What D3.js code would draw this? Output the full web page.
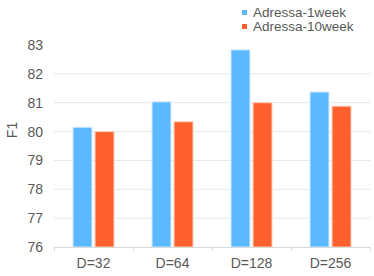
<!DOCTYPE html>
<html>
<head>
<meta charset="utf-8">
<script src="https://cdn.jsdelivr.net/npm/d3@7"></script>
<style>
  body { margin: 0; background: #fff; }
  text { font-family: "Liberation Sans", Arial, sans-serif; fill: #595959; }
</style>
</head>
<body>
<svg id="chart" width="374" height="276"></svg>
<script>
// Data
const categories = ['D=32', 'D=64', 'D=128', 'D=256'];
const series = ['Adressa-1week', 'Adressa-10week'];
const week1 = [80.15, 81.03, 82.83, 81.37];
const week10 = [80.0, 80.34, 81.0, 80.88];
const yTicks = [76, 77, 78, 79, 80, 81, 82, 83];
const colors = ['#5cb8ff', '#ff602d'];

const svg = d3.select('#chart');
const margin = { top: 45, right: 4, bottom: 29, left: 54 };
const width = 374 - margin.left - margin.right;
const height = 276 - margin.top - margin.bottom;

const g = svg.append('g')
  .attr('transform', `translate(${margin.left},${margin.top})`);

const x = d3.scaleBand().domain(categories).range([0, width]);
const xInner = d3.scaleBand().domain(series).range([19, x.bandwidth() - 19]).paddingInner(0.14);
const y = d3.scaleLinear().domain([76, 83]).range([height, 0]);

// Gridlines (none at the top value)
g.selectAll('.grid')
  .data(yTicks.filter(t => t > 76 && t < 83))
  .enter()
  .append('line')
  .attr('x1', 0)
  .attr('x2', width)
  .attr('y1', d => y(d))
  .attr('y2', d => y(d))
  .attr('stroke', '#e4e8ea')
  .attr('stroke-width', 1);

// Y axis labels
const yAxis = g.append('g')
  .call(d3.axisLeft(y).tickValues(yTicks).tickSize(0).tickPadding(11).tickFormat(d3.format('d')));
yAxis.select('.domain').remove();
yAxis.selectAll('text').style('font-size', '14px').attr('fill', '#595959');

// Bars
const rows = categories.map((c, i) => ({ cat: c, vals: [week1[i], week10[i]] }));
const groups = g.selectAll('.cat')
  .data(rows)
  .enter()
  .append('g')
  .attr('transform', d => `translate(${x(d.cat)},0)`);

groups.selectAll('rect')
  .data(d => d.vals.map((v, i) => ({ key: series[i], v: v, i: i })))
  .enter()
  .append('rect')
  .attr('x', d => xInner(d.key))
  .attr('width', xInner.bandwidth())
  .attr('y', d => y(d.v))
  .attr('height', d => height - y(d.v))
  .attr('fill', d => colors[d.i])
  .attr('stroke', d => d.i === 0 ? '#cfeaff' : '#ffcdb8')
  .attr('stroke-width', 1);

// X axis
const xAxis = g.append('g')
  .attr('transform', `translate(0,${height})`)
  .call(d3.axisBottom(x).tickSize(0).tickPadding(11));
xAxis.select('.domain').attr('stroke', '#d9d9d9');
xAxis.selectAll('text').style('font-size', '14px').attr('fill', '#595959');

// Category boundary ticks
g.selectAll('.xtick')
  .data(categories.map(c => x(c)).concat([width]))
  .enter()
  .append('line')
  .attr('x1', d => d + 0.5)
  .attr('x2', d => d + 0.5)
  .attr('y1', height)
  .attr('y2', height + 4)
  .attr('stroke', '#d9d9d9');

// Y title
svg.append('text')
  .attr('transform', 'translate(17,130) rotate(-90)')
  .attr('text-anchor', 'middle')
  .style('font-size', '14px')
  .text('F1');

// Legend
const legend = svg.append('g').attr('transform', 'translate(242,0)');
series.forEach((s, i) => {
  legend.append('rect')
    .attr('x', 0)
    .attr('y', 10 + i * 14)
    .attr('width', 5)
    .attr('height', 5)
    .attr('fill', colors[i]);
  legend.append('text')
    .attr('x', 11)
    .attr('y', 17 + i * 14)
    .style('font-size', '13.5px')
    .text(s);
});
</script>
</body>
</html>
